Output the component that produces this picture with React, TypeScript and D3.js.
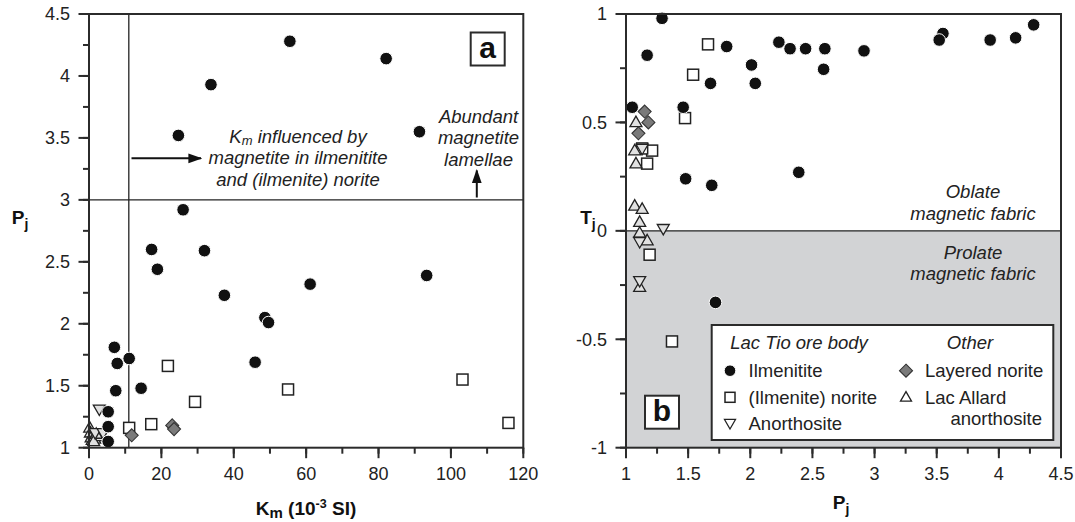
import React from "react";
import * as d3 from "d3";

// ---- Panel a: Km (10^-3 SI) vs Pj ----
const kmTicks = [0, 20, 40, 60, 80, 100, 120];
const pjTicksA = [1, 1.5, 2, 2.5, 3, 3.5, 4, 4.5];

const ilmenititeA: [number, number][] = [
  [55.5, 4.28], [82.1, 4.14], [33.7, 3.93], [24.7, 3.52], [91.3, 3.55],
  [26.0, 2.92], [17.3, 2.6], [31.9, 2.59], [18.9, 2.44], [37.4, 2.23],
  [61.1, 2.32], [93.3, 2.39], [48.6, 2.05], [49.6, 2.01], [45.9, 1.69],
  [7.0, 1.81], [7.8, 1.68], [11.1, 1.72], [7.4, 1.46], [14.4, 1.48],
  [5.3, 1.29], [5.3, 1.17], [5.3, 1.05],
];
const noriteA: [number, number][] = [
  [21.8, 1.66], [11.1, 1.16], [17.2, 1.19], [29.3, 1.37], [55.0, 1.47],
  [103.2, 1.55], [115.9, 1.2],
];
const layeredA: [number, number][] = [[11.8, 1.1], [23.0, 1.18], [23.5, 1.15]];
const anorthositeA: [number, number][] = [[2.85, 1.31], [1.7, 1.12], [3.9, 1.12]];
const allardA: [number, number][] = [
  [0.2, 1.16], [0.4, 1.12], [1.0, 1.1], [0.6, 1.08], [1.6, 1.07],
  [2.4, 1.09], [0.9, 1.06], [2.0, 1.11], [1.3, 1.05],
];
const kmThreshold = 11;
const pjThreshold = 3;

// ---- Panel b: Pj vs Tj ----
const pjTicksB = [1, 1.5, 2, 2.5, 3, 3.5, 4, 4.5];
const tjTicks = [-1, -0.5, 0, 0.5, 1];

const noriteB: [number, number][] = [
  [1.66, 0.86], [1.54, 0.72], [1.475, 0.52], [1.21, 0.37], [1.13, 0.38],
  [1.17, 0.31], [1.19, -0.11], [1.37, -0.51],
];
const layeredB: [number, number][] = [[1.15, 0.55], [1.18, 0.5], [1.1, 0.45]];
const anorthositeB: [number, number][] = [[1.13, 0.38], [1.3, 0.01], [1.11, -0.05], [1.11, -0.23]];
const allardB: [number, number][] = [
  [1.08, 0.5], [1.07, 0.37], [1.08, 0.31], [1.07, 0.115], [1.13, 0.1],
  [1.11, 0.04], [1.11, -0.01], [1.17, -0.045], [1.11, -0.26],
];
const ilmenititeB: [number, number][] = [
  [1.29, 0.98], [1.17, 0.81], [1.81, 0.85], [2.01, 0.765], [2.04, 0.68],
  [2.23, 0.87], [2.32, 0.84], [2.445, 0.84], [2.6, 0.84], [2.59, 0.745],
  [2.915, 0.83], [3.55, 0.91], [3.52, 0.88], [3.93, 0.88], [4.135, 0.89],
  [4.28, 0.95], [1.68, 0.68], [1.05, 0.57], [1.46, 0.57], [1.48, 0.24],
  [1.69, 0.21], [2.39, 0.27], [1.72, -0.33],
];

const FONT = "'Liberation Sans', Arial, Helvetica, sans-serif";
const INK = "#2b2b2b";
const TEXT_SIZE = 18.5;
const TICK_SIZE = 18;

type Kind = "circle" | "square" | "diamond" | "up" | "down";

function Marker({ kind, x, y, legend = false }: { kind: Kind; x: number; y: number; legend?: boolean }) {
  if (kind === "circle") {
    return <circle cx={x} cy={y} r={legend ? 5.8 : 6.3} fill="#111" stroke="#fff" strokeWidth={1} />;
  }
  if (kind === "square") {
    const s = legend ? 10 : 11;
    return <rect x={x - s / 2} y={y - s / 2} width={s} height={s} fill="#fff" stroke="#222" strokeWidth={1.5} />;
  }
  if (kind === "diamond") {
    const h = 6.5;
    return (
      <path d={`M${x},${y - h}L${x + h},${y}L${x},${y + h}L${x - h},${y}Z`} fill="#7a7a7a" stroke="#333" strokeWidth={1.1} />
    );
  }
  const w = legend ? 11 : 12;
  const hh = w * 0.87;
  const fill = legend ? "#fff" : "#e1e1e1";
  const d =
    kind === "up"
      ? `M${x},${y - hh * 0.6}L${x + w / 2},${y + hh * 0.4}L${x - w / 2},${y + hh * 0.4}Z`
      : `M${x},${y + hh * 0.6}L${x + w / 2},${y - hh * 0.4}L${x - w / 2},${y - hh * 0.4}Z`;
  return <path d={d} fill={fill} stroke="#222" strokeWidth={1.3} />;
}

function Series({ data, kind, sx, sy }: { data: [number, number][]; kind: Kind; sx: d3.ScaleLinear<number, number>; sy: d3.ScaleLinear<number, number> }) {
  return (
    <g>
      {data.map((d, i) => (
        <Marker key={i} kind={kind} x={sx(d[0])} y={sy(d[1])} />
      ))}
    </g>
  );
}

function Axes({
  sx, sy, xTicks, yTicks, xMinorStep, yMinorStep, yLabelEnd,
}: {
  sx: d3.ScaleLinear<number, number>; sy: d3.ScaleLinear<number, number>;
  xTicks: number[]; yTicks: number[]; xMinorStep: number; yMinorStep: number; yLabelEnd: number;
}) {
  const [x0, x1] = sx.range();
  const [y0, y1] = sy.range();
  const xd = sx.domain();
  const yd = sy.domain();
  const xMinor = d3.range(xd[0], xd[1] + 1e-9, xMinorStep);
  const yMinor = d3.range(yd[0], yd[1] + 1e-9, yMinorStep);
  return (
    <g>
      {xMinor.map((v, i) => (
        <line key={"xm" + i} x1={sx(v)} x2={sx(v)} y1={y0} y2={y0 + 6} stroke={INK} strokeWidth={2} />
      ))}
      {xTicks.map((v, i) => (
        <g key={"xt" + i}>
          <line x1={sx(v)} x2={sx(v)} y1={y0} y2={y0 + 10.5} stroke={INK} strokeWidth={2} />
          <text x={sx(v)} y={y0 + 32.5} textAnchor="middle" fontSize={TICK_SIZE} fontFamily={FONT} fill="#222">
            {String(v)}
          </text>
        </g>
      ))}
      {yMinor.map((v, i) => (
        <line key={"ym" + i} x1={x0} x2={x0 - 6} y1={sy(v)} y2={sy(v)} stroke={INK} strokeWidth={2} />
      ))}
      {yTicks.map((v, i) => (
        <g key={"yt" + i}>
          <line x1={x0} x2={x0 - 10.5} y1={sy(v)} y2={sy(v)} stroke={INK} strokeWidth={2} />
          <text x={yLabelEnd} y={sy(v)} dy="0.36em" textAnchor="end" fontSize={TICK_SIZE} fontFamily={FONT} fill="#222">
            {String(v)}
          </text>
        </g>
      ))}
      <rect x={x0} y={y1} width={x1 - x0} height={y0 - y1} fill="none" stroke={INK} strokeWidth={2} />
    </g>
  );
}

function PanelTag({ x, y, label }: { x: number; y: number; label: string }) {
  return (
    <g>
      <rect x={x} y={y} width={34} height={33} fill="#fff" stroke={INK} strokeWidth={2} />
      <text x={x + 17} y={y + 25} textAnchor="middle" fontSize={30} fontWeight="bold" fontFamily={FONT} fill="#111">
        {label}
      </text>
    </g>
  );
}

export default function App() {
  const xA = d3.scaleLinear().domain([0, 120]).range([89, 523.3]);
  const yA = d3.scaleLinear().domain([1, 4.5]).range([447.7, 14]);
  const xB = d3.scaleLinear().domain([1, 4.5]).range([626, 1061]);
  const yB = d3.scaleLinear().domain([-1, 1]).range([447.7, 14]);

  const annoFont = { fontFamily: FONT, fontSize: TEXT_SIZE, fontStyle: "italic" as const, fill: "#222" };
  const plainFont = { fontFamily: FONT, fontSize: TEXT_SIZE, fill: "#222" };

  return (
    <svg width={1075} height={522} style={{ position: "absolute", left: 0, top: 0, background: "#fff" }}>
      <defs>
        <marker id="arrowHead" viewBox="0 0 10 10" refX={9} refY={5} markerWidth={7} markerHeight={7} orient="auto">
          <path d="M0,1.5L10,5L0,8.5Z" fill="#111" />
        </marker>
      </defs>

      {/* Panel a */}
      <g>
        <line x1={xA(kmThreshold)} x2={xA(kmThreshold)} y1={yA(4.5)} y2={yA(1)} stroke="#222" strokeWidth={1.3} />
        <line x1={xA(0)} x2={xA(120)} y1={yA(pjThreshold)} y2={yA(pjThreshold)} stroke="#222" strokeWidth={1.3} />

        <line x1={131.5} x2={201} y1={158.3} y2={158.3} stroke="#111" strokeWidth={2} markerEnd="url(#arrowHead)" />
        <text x={298} y={142.7} textAnchor="middle" {...annoFont}>
          K<tspan fontSize={13} dy={2.5}>m</tspan>
          <tspan dy={-2.5}> influenced by</tspan>
        </text>
        <text x={298} y={164.4} textAnchor="middle" {...annoFont}>magnetite in ilmenitite</text>
        <text x={298} y={185.7} textAnchor="middle" {...annoFont}>and (ilmenite) norite</text>

        <text x={478.5} y={123.2} textAnchor="middle" {...annoFont}>Abundant</text>
        <text x={478.5} y={144.2} textAnchor="middle" {...annoFont}>magnetite</text>
        <text x={478.5} y={165.8} textAnchor="middle" {...annoFont}>lamellae</text>
        <line x1={476.8} x2={476.8} y1={197.5} y2={170.5} stroke="#111" strokeWidth={2} markerEnd="url(#arrowHead)" />

        <Series data={allardA} kind="up" sx={xA} sy={yA} />
        <Series data={anorthositeA} kind="down" sx={xA} sy={yA} />
        <Series data={noriteA} kind="square" sx={xA} sy={yA} />
        <Series data={layeredA} kind="diamond" sx={xA} sy={yA} />
        <Series data={ilmenititeA} kind="circle" sx={xA} sy={yA} />

        <Axes sx={xA} sy={yA} xTicks={kmTicks} yTicks={pjTicksA} xMinorStep={10} yMinorStep={0.25} yLabelEnd={70} />
        <PanelTag x={470.7} y={32.5} label="a" />

        <text x={20} y={224} textAnchor="middle" fontFamily={FONT} fontWeight="bold" fontSize={19} fill="#111">
          P<tspan fontSize={14} dy={5}>j</tspan>
        </text>
        <text x={306} y={514.5} textAnchor="middle" fontFamily={FONT} fontWeight="bold" fontSize={19} fill="#111">
          K<tspan fontSize={15} dy={3}>m</tspan>
          <tspan dy={-3}> (10</tspan>
          <tspan fontSize={12.5} dy={-7}>-3</tspan>
          <tspan dy={7}> SI)</tspan>
        </text>
      </g>

      {/* Panel b */}
      <g>
        <rect x={xB(1)} y={yB(0)} width={xB(4.5) - xB(1)} height={yB(-1) - yB(0)} fill="#d2d3d5" />
        <line x1={xB(1)} x2={xB(4.5)} y1={yB(0)} y2={yB(0)} stroke="#222" strokeWidth={1.3} />

        <text x={973} y={198.2} textAnchor="middle" {...annoFont}>Oblate</text>
        <text x={973} y={219.8} textAnchor="middle" {...annoFont}>magnetic fabric</text>
        <text x={973} y={259.2} textAnchor="middle" {...annoFont}>Prolate</text>
        <text x={973} y={279.8} textAnchor="middle" {...annoFont}>magnetic fabric</text>

        <Series data={noriteB} kind="square" sx={xB} sy={yB} />
        <Series data={allardB} kind="up" sx={xB} sy={yB} />
        <Series data={anorthositeB} kind="down" sx={xB} sy={yB} />
        <Series data={layeredB} kind="diamond" sx={xB} sy={yB} />
        <Series data={ilmenititeB} kind="circle" sx={xB} sy={yB} />

        {/* Legend */}
        <g>
          <rect x={711.7} y={325} width={341.6} height={115} fill="#fff" stroke={INK} strokeWidth={2} />
          <text x={799} y={349.2} textAnchor="middle" {...annoFont}>Lac Tio ore body</text>
          <text x={970} y={349.2} textAnchor="middle" {...annoFont}>Other</text>

          <Marker kind="circle" x={730} y={370.7} legend />
          <text x={748.5} y={377.2} {...plainFont}>Ilmenitite</text>
          <Marker kind="square" x={730} y={397.3} legend />
          <text x={748.5} y={403.8} {...plainFont}>(Ilmenite) norite</text>
          <Marker kind="down" x={730} y={423.3} legend />
          <text x={748.5} y={429.8} {...plainFont}>Anorthosite</text>

          <Marker kind="diamond" x={906} y={370.7} legend />
          <text x={925} y={377.2} {...plainFont}>Layered norite</text>
          <Marker kind="up" x={906} y={397.3} legend />
          <text x={925} y={403.8} {...plainFont}>Lac Allard</text>
          <text x={1042} y={425} textAnchor="end" {...plainFont}>anorthosite</text>
        </g>

        <Axes sx={xB} sy={yB} xTicks={pjTicksB} yTicks={tjTicks} xMinorStep={0.25} yMinorStep={0.25} yLabelEnd={607} />
        <PanelTag x={645} y={395.7} label="b" />

        <text x={588} y={224} textAnchor="middle" fontFamily={FONT} fontWeight="bold" fontSize={19} fill="#111">
          T<tspan fontSize={14} dy={5}>j</tspan>
        </text>
        <text x={841} y={509} textAnchor="middle" fontFamily={FONT} fontWeight="bold" fontSize={19} fill="#111">
          P<tspan fontSize={14} dy={5}>j</tspan>
        </text>
      </g>
    </svg>
  );
}
